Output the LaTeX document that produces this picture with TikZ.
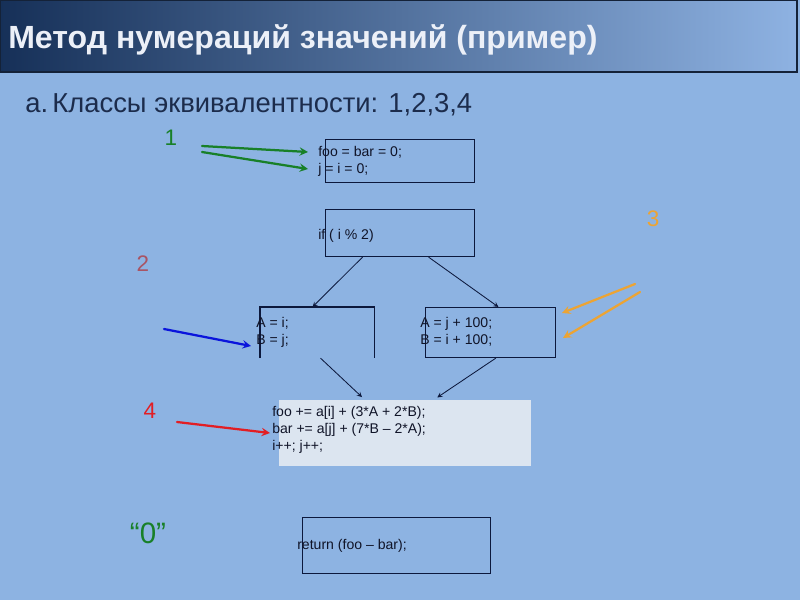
\documentclass[tikz,border=0pt]{standalone}
\usepackage{fontspec}
\setmainfont{Liberation Sans}
\usetikzlibrary{arrows,calc,positioning}

\definecolor{slidebg}{RGB}{141,179,226}
\definecolor{titledark}{RGB}{22,48,88}
\definecolor{titlelight}{RGB}{142,178,226}
\definecolor{titleedge}{RGB}{20,34,56}
\definecolor{titletext}{RGB}{236,240,248}
\definecolor{headtext}{RGB}{28,44,76}
\definecolor{boxline}{RGB}{12,24,60}
\definecolor{codetext}{RGB}{16,20,40}
\definecolor{loopfill}{RGB}{220,229,240}
\definecolor{classgreen}{RGB}{24,128,40}
\definecolor{classrose}{RGB}{168,84,100}
\definecolor{classorange}{RGB}{236,164,52}
\definecolor{classred}{RGB}{226,30,36}
\definecolor{classblue}{RGB}{10,20,220}

\def\unitpx{0.025cm}
\tikzstyle{codebox} = [inner sep=0, anchor=north west, line width=0.8]
\tikzstyle{code} = [anchor=west, inner sep=0, align=left, text=codetext,
  font=\fontsize{10}{12}\selectfont]
\tikzstyle{flow} = [->, >=stealth, line width=0.6, boxline]
\tikzstyle{handarrow} = [->, >=stealth, line width=1.6, line cap=round]
\tikzstyle{classlabel} = [inner sep=0, font=\fontsize{16}{18}\selectfont]

\begin{document}
\begin{tikzpicture}[x=0.025cm, y=-0.025cm]
  \useasboundingbox (0,0) rectangle (800,600);
  \fill[slidebg] (0,0) rectangle (800,600);

  % title bar
  \shade[left color=titledark, right color=titlelight] (0,0) rectangle (797,72);
  \draw[titleedge, line width=1.2] (0,0) rectangle (797,72);
  \node[anchor=west, inner sep=0, text=titletext,
    font=\bfseries\fontsize{22.8}{26}\selectfont] (title) at (8,40)
    {Метод нумераций значений (пример)};

  % heading
  \node[anchor=west, inner sep=0, text=headtext,
    font=\fontsize{19.5}{23}\selectfont] (heading) at (25,105)
    {а.\kern3pt Классы эквивалентности: 1,2,3,4};

  % boxes
  \node[codebox, draw=boxline, minimum width=149*\unitpx, minimum height=43*\unitpx]
    (init) at (325,139) {};
  \node[codebox, draw=boxline, minimum width=149*\unitpx, minimum height=47*\unitpx]
    (cond) at (325,209) {};
  \node[codebox, minimum width=113*\unitpx, minimum height=50*\unitpx]
    (thenbox) at (260,307) {};
  \draw[boxline, line width=0.8] (thenbox.south west) -- (thenbox.north west)
    -- (thenbox.north east) -- (thenbox.south east);
  \node[codebox, draw=boxline, minimum width=130*\unitpx, minimum height=50*\unitpx]
    (elsebox) at (425,307) {};
  \node[codebox, fill=loopfill, minimum width=252*\unitpx, minimum height=66*\unitpx]
    (body) at (278,399) {};
  \node[codebox, draw=boxline, minimum width=188*\unitpx, minimum height=56*\unitpx]
    (ret) at (302,517) {};

  % code
  \node[code] (initcode) at (318,161) {foo = bar = 0;\\j = i = 0;};
  \node[code] (condcode) at (318,236) {if ( i \% 2)};
  \node[code, font=\fontsize{10}{12.2}\selectfont] (thencode) at (256,332) {A = i;\\B = j;};
  \node[code, font=\fontsize{10}{12.2}\selectfont] (elsecode) at (420,332) {A = j + 100;\\B = i + 100;};
  \node[code, font=\fontsize{10}{12.2}\selectfont] (bodycode) at (272,430)
    {foo += a[i] + (3*A + 2*B);\\bar += a[j] + (7*B – 2*A);\\i++; j++;};
  \node[code] (retcode) at (297,546) {return (foo – bar);};

  % flow edges
  \draw[flow] ($(cond.south west)!0.25!(cond.south east)$)
    -- ($(thenbox.north west)!0.46!(thenbox.north east)$);
  \draw[flow] ($(cond.south west)!0.69!(cond.south east)$)
    -- ($(elsebox.north west)!0.56!(elsebox.north east)$);
  \draw[flow, shorten >=2pt] ($(thenbox.south west)!0.53!(thenbox.south east)$)
    -- ($(body.north west)!0.34!(body.north east)$);
  \draw[flow, shorten >=2pt] ($(elsebox.south west)!0.54!(elsebox.south east)$)
    -- ($(body.north west)!0.62!(body.north east)$);

  % class labels
  \node[classlabel, text=classgreen] (one) at (171,138) {1};
  \node[classlabel, text=classrose] (two) at (143,264) {2};
  \node[classlabel, text=classorange] (three) at (653,219) {3};
  \node[classlabel, text=classred] (four) at (150,411) {4};
  \node[classlabel, text=classgreen, font=\fontsize{21}{24}\selectfont] (zero) at (148,533) {“0”};

  % class 1
  \coordinate (greenA) at (202,146);
  \coordinate (greenB) at (202,152);
  \coordinate (initfoo) at (308,152);
  \coordinate (initj) at (308,169);
  \draw[handarrow, classgreen] (greenA) -- (initfoo);
  \draw[handarrow, classgreen] (greenB) -- (initj);

  % class 2
  \coordinate (blueA) at (164,329);
  \coordinate (thenB) at (251,346);
  \draw[handarrow, classblue] (blueA) -- (thenB);

  % class 3
  \coordinate (orangeA) at (635,284);
  \coordinate (orangeB) at (640,292);
  \coordinate (elseA) at (562,313);
  \coordinate (elseB) at (563,338);
  \draw[handarrow, classorange] (orangeA) -- (elseA);
  \draw[handarrow, classorange] (orangeB) -- (elseB);

  % class 4
  \coordinate (redA) at (177,422);
  \coordinate (bodybar) at (270,433);
  \draw[handarrow, classred] (redA) -- (bodybar);
\end{tikzpicture}
\end{document}
